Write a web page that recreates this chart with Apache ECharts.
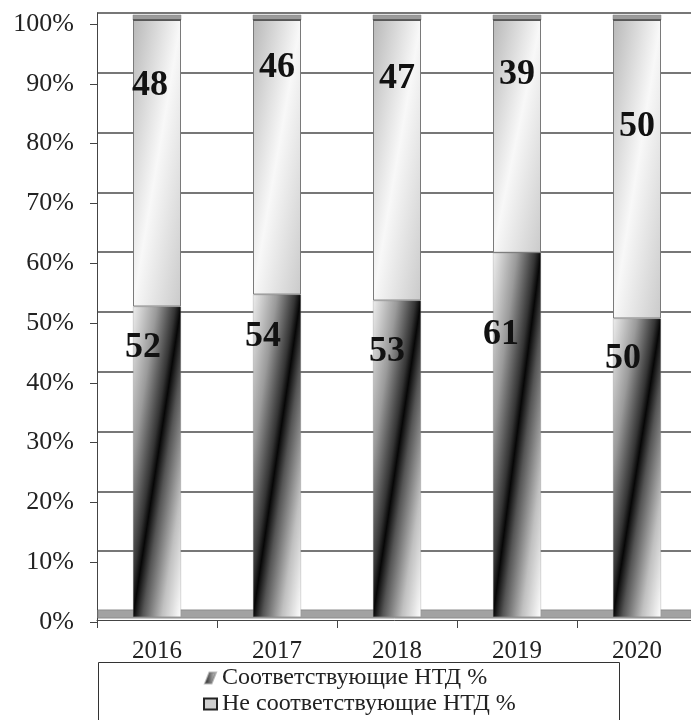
<!DOCTYPE html>
<html>
<head>
<meta charset="utf-8">
<script src="https://cdn.jsdelivr.net/npm/echarts@6/dist/echarts.min.js"></script>
<style>
  html, body { margin: 0; padding: 0; background: #fff; }
  #chart { width: 691px; height: 720px; }
</style>
</head>
<body>
<div id="chart"></div>
<script>
// data
const years = ['2016', '2017', '2018', '2019', '2020'];
const conforming = [52, 54, 53, 61, 50];
const nonConforming = [48, 46, 47, 39, 50];
const seriesNames = ['Соответствующие НТД %', 'Не соответствующие НТД %'];

// label nudges (px from the top-centre of each segment), styling only
const upperLabelNudge = [[-7, 66], [0, 48], [0, 59], [0, 55], [0, 107]];
const lowerLabelNudge = [[-14, 41], [-14, 42], [-10, 51], [-16, 82], [-14, 40]];

const FONT = "'Liberation Serif', 'Times New Roman', serif";
const BAR_W = 48;
const PLOT_H = 597;

// gradient whose middle runs along the bar diagonal (bottom-left -> top-right)
function diagGradient(value, stops) {
  const h = value / 100 * PLOT_H, w = BAR_W;
  const L2 = h * h + w * w;
  const a = h * h / L2, b = w * w / L2;
  return {
    type: 'linear', x: 0.5 - a, y: 0.5 - b, x2: 0.5 + a, y2: 0.5 + b,
    colorStops: stops, global: false
  };
}

const darkStops = [
  { offset: 0, color: '#eeeeee' },
  { offset: 0.25, color: '#9a9a9a' },
  { offset: 0.44, color: '#353535' },
  { offset: 0.5, color: '#060606' },
  { offset: 0.6, color: '#555555' },
  { offset: 0.8, color: '#c0c0c0' },
  { offset: 1, color: '#ffffff' }
];
const lightStops = [
  { offset: 0, color: '#b8b8b8' },
  { offset: 0.5, color: '#f8f8f8' },
  { offset: 1, color: '#cacaca' }
];

const lowerData = conforming.map((v, i) => ({
  value: v,
  itemStyle: { color: diagGradient(v, darkStops) },
  label: { position: [BAR_W / 2 + lowerLabelNudge[i][0], lowerLabelNudge[i][1]] }
}));
const upperData = nonConforming.map((v, i) => ({
  value: v,
  itemStyle: { color: diagGradient(v, lightStops) },
  label: { position: [BAR_W / 2 + upperLabelNudge[i][0], upperLabelNudge[i][1]] }
}));
const caps = years.map((y, i) => [i, conforming[i] + nonConforming[i]]);

const labelStyle = {
  show: true,
  fontFamily: FONT,
  fontSize: 36,
  fontWeight: 'bold',
  color: '#111',
  align: 'center',
  verticalAlign: 'middle'
};

const chart = echarts.init(document.getElementById('chart'));

const option = {
  backgroundColor: '#fff',
  animation: false,
  grid: [
    // bars
    { left: 97, width: 600, top: 20, height: 597, outerBoundsMode: 'none' },
    // back wall gridlines
    { left: 97, width: 600, top: 13, height: 598, outerBoundsMode: 'none' },
    // front axes
    { left: 97, width: 600, top: 24, height: 598, outerBoundsMode: 'none' }
  ],
  xAxis: [
    { gridIndex: 0, type: 'category', data: years, show: false },
    { gridIndex: 1, type: 'category', data: years, show: false },
    {
      gridIndex: 2, type: 'category', data: years, offset: -2,
      axisLine: { show: true, lineStyle: { color: '#444', width: 1 } },
      axisTick: { show: true, length: 8, lineStyle: { color: '#444' } },
      axisLabel: { fontFamily: FONT, fontSize: 25, color: '#222', margin: 19 }
    }
  ],
  yAxis: [
    { gridIndex: 0, type: 'value', min: 0, max: 100, show: false },
    {
      gridIndex: 1, type: 'value', min: 0, max: 100, interval: 10,
      axisLine: { show: true, lineStyle: { color: '#444' } },
      axisTick: { show: false },
      axisLabel: { show: false },
      splitLine: { show: true, lineStyle: { color: '#4a4a4a', width: 1.5 } }
    },
    {
      gridIndex: 2, type: 'value', min: 0, max: 100, interval: 10,
      axisLine: { show: true, lineStyle: { color: '#444' } },
      axisTick: { show: true, length: 7, lineStyle: { color: '#444' } },
      axisLabel: { fontFamily: FONT, fontSize: 26, color: '#222', margin: 23, formatter: '{value}%' },
      splitLine: { show: false }
    }
  ],
  legend: {
    orient: 'vertical',
    left: 203,
    top: 666,
    padding: 0,
    itemGap: 2,
    itemWidth: 13,
    itemHeight: 11,
    textStyle: { fontFamily: FONT, fontSize: 24, color: '#222' },
    data: [
      {
        name: seriesNames[0],
        icon: 'path://M4,0 L10,0 L6,10 L0,10 Z',
        itemStyle: {
          color: {
            type: 'linear', x: 0, y: 0, x2: 1, y2: 0,
            colorStops: [{ offset: 0, color: '#111' }, { offset: 1, color: '#ddd' }]
          }
        }
      },
      {
        name: seriesNames[1],
        icon: 'rect',
        itemStyle: { color: '#cfcfcf', borderColor: '#222', borderWidth: 2 }
      }
    ]
  },
  graphic: [
    {
      type: 'rect', z: 1,
      shape: { x: 98, y: 610, width: 593, height: 8 },
      style: { fill: '#a2a2a2', stroke: '#8c8c8c', lineWidth: 1 }
    },
    {
      type: 'rect', z: 1,
      shape: { x: 98.5, y: 662.5, width: 521, height: 70 },
      style: { fill: 'none', stroke: '#333', lineWidth: 1 }
    }
  ],
  series: [
    {
      name: seriesNames[0],
      type: 'bar',
      stack: 'total',
      xAxisIndex: 0,
      yAxisIndex: 0,
      barWidth: BAR_W,
      z: 3,
      itemStyle: { borderColor: 'rgba(120,120,120,0.5)', borderWidth: 0.5 },
      label: labelStyle,
      data: lowerData
    },
    {
      name: seriesNames[1],
      type: 'bar',
      stack: 'total',
      xAxisIndex: 0,
      yAxisIndex: 0,
      barWidth: BAR_W,
      z: 3,
      itemStyle: { borderColor: '#7a7a7a', borderWidth: 1 },
      label: labelStyle,
      data: upperData
    },
    {
      // top face of each column
      type: 'custom',
      xAxisIndex: 0,
      yAxisIndex: 0,
      z: 4,
      silent: true,
      data: caps,
      renderItem: (params, api) => {
        const top = api.coord([api.value(0), api.value(1)]);
        const x = top[0] - BAR_W / 2;
        return {
          type: 'group',
          children: [
            {
              type: 'rect',
              shape: { x: x, y: top[1] - 5, width: BAR_W, height: 5 },
              style: { fill: '#9c9c9c', stroke: '#808080', lineWidth: 0.5 }
            },
            {
              type: 'line',
              shape: { x1: x, y1: top[1], x2: x + BAR_W, y2: top[1] },
              style: { stroke: '#4a4a4a', lineWidth: 1.5 }
            }
          ]
        };
      }
    }
  ]
};

chart.setOption(option);
</script>
</body>
</html>
